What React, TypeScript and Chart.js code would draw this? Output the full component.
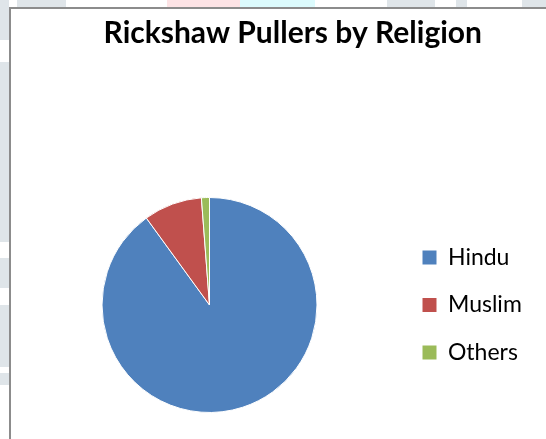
import React, { useEffect, useRef } from "react";
import { Chart, registerables, DoughnutController } from "chart.js";

Chart.register(...registerables);

const categories = ["Hindu", "Muslim", "Others"];
const shares = [90, 8.8, 1.2];
const sliceColors = ["#4F81BD", "#C0504D", "#9BBB59"];
const chartTitle = "Rickshaw Pullers by Religion";

const backdrop = {
  id: "backdrop",
  afterLayout(chart: any) {
    // let the legend labels run past the narrow box used for layout
    const lg = chart.legend;
    if (lg) {
      lg.right = chart.width;
      lg.width = lg.right - lg.left;
    }
  },
  beforeDraw(chart: any) {
    const ctx = chart.ctx as CanvasRenderingContext2D;
    const w = chart.width;
    const h = chart.height;
    ctx.save();
    ctx.fillStyle = "#ffffff";
    ctx.fillRect(0, 0, w, h);
    // faint watermark pieces outside the frame
    ctx.fillStyle = "#dfe5e9";
    ctx.fillRect(0, 0, 9, 40);
    ctx.fillRect(0, 62, 9, 180);
    ctx.fillRect(0, 258, 9, 30);
    ctx.fillRect(0, 305, 9, 62);
    ctx.fillRect(0, 373, 9, 12);
    ctx.fillRect(17, 0, 49, 7);
    ctx.fillRect(387, 0, 48, 7);
    ctx.fillRect(456, 0, 11, 7);
    ctx.fillRect(522, 0, 24, 7);
    ctx.fillStyle = "#fde3e5";
    ctx.fillRect(167, 0, 73, 7);
    ctx.fillStyle = "#dcfbfd";
    ctx.fillRect(240, 0, 75, 7);
    // chart frame
    ctx.fillStyle = "#8c8c8c";
    ctx.fillRect(9, 7, 2, h - 7);
    ctx.fillRect(9, 7, w - 9, 2);
    ctx.restore();
  },
};

export default function App() {
  const ref = useRef<HTMLCanvasElement>(null);
  useEffect(() => {
    const baseLabels = (DoughnutController as any).overrides.plugins.legend.labels.generateLabels;
    const chart = new Chart(ref.current as HTMLCanvasElement, {
      type: "pie",
      data: {
        labels: categories,
        datasets: [
          {
            data: shares,
            backgroundColor: sliceColors,
            borderColor: "#ffffff",
            borderWidth: 1,
          },
        ],
      },
      options: {
        responsive: false,
        animation: false,
        radius: 107.5,
        layout: { padding: { left: 21, right: 64, top: 0, bottom: 20 } },
        plugins: {
          title: {
            display: true,
            text: chartTitle,
            align: "end",
            color: "#000000",
            font: { family: "Lato", size: 30, weight: "bold", lineHeight: 1.2 },
            padding: { top: 15, bottom: 140 },
          },
          legend: {
            display: true,
            position: "right",
            fullSize: false,
            maxWidth: 84,
            align: "center",
            labels: {
              boxWidth: 14,
              boxHeight: 14,
              padding: 24.5,
              color: "#000000",
              font: { family: "Lato", size: 23 },
              generateLabels: (c: any) =>
                baseLabels(c).map((l: any) => ({ ...l, lineWidth: 0 })),
            },
          },
          tooltip: { enabled: false },
        },
      } as any,
      plugins: [backdrop],
    });
    return () => chart.destroy();
  }, []);
  return (
    <div style={{ position: "absolute", left: 0, top: 0, width: 546, height: 439 }}>
      <canvas ref={ref} width={546} height={439} style={{ display: "block" }} />
    </div>
  );
}
